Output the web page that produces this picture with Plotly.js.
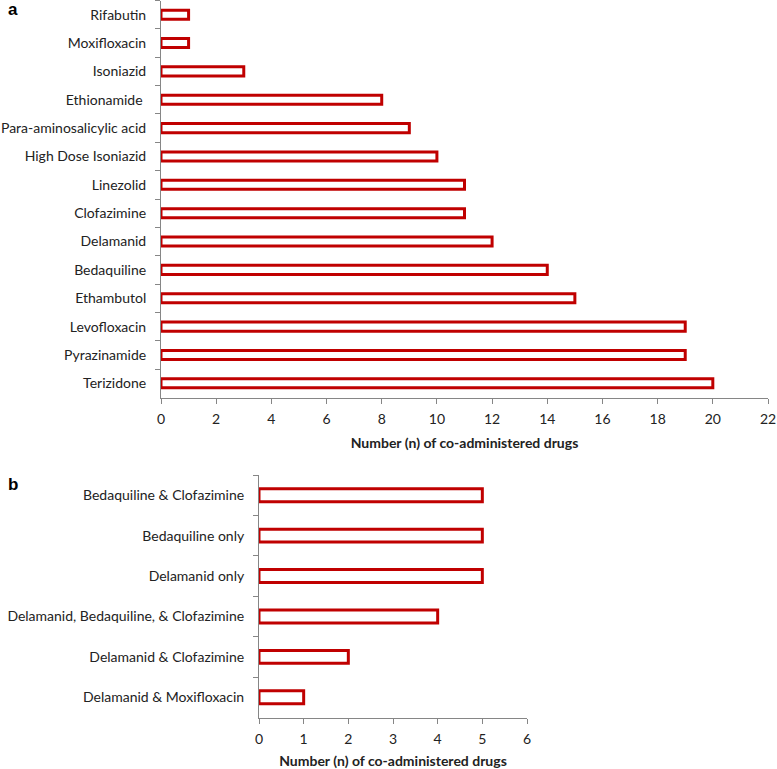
<!DOCTYPE html>
<html>
<head>
<meta charset="utf-8">
<script src="https://cdn.plot.ly/plotly-3.0.1.min.js"></script>
<style>html,body{margin:0;padding:0;background:#fff;}#chart{width:777px;height:769px;}</style>
</head>
<body>
<div id="chart"></div>
<script>
// Panel a
const drugsA = ["Rifabutin","Moxifloxacin","Isoniazid","Ethionamide ","Para-aminosalicylic acid","High Dose Isoniazid","Linezolid","Clofazimine","Delamanid","Bedaquiline","Ethambutol","Levofloxacin","Pyrazinamide","Terizidone"];
const countsA = [1,1,3,8,9,10,11,11,12,14,15,19,19,20];
// Panel b
const combosB = ["Bedaquiline & Clofazimine","Bedaquiline only","Delamanid only","Delamanid, Bedaquiline, & Clofazimine","Delamanid & Clofazimine","Delamanid & Moxifloxacin"];
const countsB = [5,5,5,4,2,1];
const xTitle = "Number (n) of co-administered drugs";

const H = 769, W = 777;
const red = "#C00000";
const axisColor = "#868686";
const font = {family: "Lato, 'Open Sans', sans-serif", size: 14, color: "#222"};

const traces = [
  {type:"bar", orientation:"h", x:countsA, y:drugsA, xaxis:"x", yaxis:"y",
   marker:{color:"#ffffff", line:{color:red, width:3}}, hoverinfo:"x+y"},
  {type:"bar", orientation:"h", x:countsB, y:combosB, xaxis:"x2", yaxis:"y2",
   marker:{color:"#ffffff", line:{color:red, width:3}}, hoverinfo:"x+y"}
];

function px(x){return x/W;}
function py(y){return 1 - y/H;}

const xCommon = {showgrid:false, zeroline:false, showline:true, linecolor:axisColor, linewidth:1,
  ticks:"outside", ticklen:5, tickcolor:axisColor, tickfont:font, ticklabelstandoff:4};
const yCommon = {showgrid:false, zeroline:false, showline:true, linecolor:axisColor, linewidth:1,
  ticks:"outside", ticklen:5, tickcolor:axisColor, tickson:"boundaries", tickfont:font,
  autorange:"reversed", type:"category"};
const titleFont = {family:font.family, size:14, color:"#222"};

const layout = {
  width:W, height:H, margin:{l:0,r:0,t:0,b:0}, showlegend:false,
  paper_bgcolor:"#fff", plot_bgcolor:"#fff", bargap:0.68, font:font,
  xaxis: Object.assign({}, xCommon, {domain:[px(161), px(768)], range:[0,22], dtick:2, tick0:0,
    anchor:"y", title:{text:"<b>"+xTitle+"</b>", font:titleFont, standoff:11}}),
  yaxis: Object.assign({}, yCommon, {domain:[py(397.5), py(0.5)], anchor:"x", ticklabelstandoff:11}),
  xaxis2: Object.assign({}, xCommon, {domain:[px(259), px(527)], range:[0,6], dtick:1, tick0:0,
    anchor:"y2", title:{text:"<b>"+xTitle+"</b>", font:titleFont, standoff:11}}),
  yaxis2: Object.assign({}, yCommon, {domain:[py(717.5), py(475)], anchor:"x2", ticklabelstandoff:11}),
  annotations:[
    {text:"<b>a</b>", x:px(6), y:py(9), xref:"paper", yref:"paper", xanchor:"left", yanchor:"middle", showarrow:false,
     font:{family:"Liberation Sans, Arial, sans-serif", size:17, color:"#000"}},
    {text:"<b>b</b>", x:px(6), y:py(484), xref:"paper", yref:"paper", xanchor:"left", yanchor:"middle", showarrow:false,
     font:{family:"Liberation Sans, Arial, sans-serif", size:17, color:"#000"}}
  ]
};

Plotly.newPlot("chart", traces, layout, {displayModeBar:false, staticPlot:true});
</script>
</body>
</html>
